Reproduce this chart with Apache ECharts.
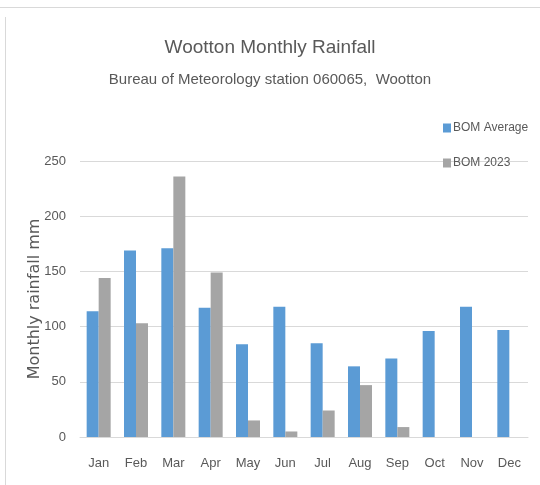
<!DOCTYPE html>
<html>
<head>
<meta charset="utf-8">
<script src="https://cdn.jsdelivr.net/npm/echarts@6/dist/echarts.min.js"></script>
<style>html,body{margin:0;padding:0;background:#fff;}#c{width:540px;height:485px;}</style>
</head>
<body>
<div id="c"></div>
<script>
var months = ['Jan','Feb','Mar','Apr','May','Jun','Jul','Aug','Sep','Oct','Nov','Dec'];
var bomAverage = [114, 169, 171, 117, 84, 118, 85, 64, 71, 96, 118, 97];
var bom2023 = [144, 103, 236, 149, 15, 5, 24, 47, 9, null, null, null];
var yTicks = [0, 50, 100, 150, 200, 250];

var font = '"Liberation Sans Narrow", "Liberation Sans", sans-serif';
var chart = echarts.init(document.getElementById('c'));
chart.setOption({
  animation: false,
  backgroundColor: '#fff',
  title: [
    {text: 'Wootton Monthly Rainfall', left: 'center', top: 33, textStyle: {fontFamily: font, fontSize: 19, fontWeight: 'normal', color: '#595959'}},
    {text: 'Bureau of Meteorology station 060065,  Wootton', left: 'center', top: 67, textStyle: {fontFamily: font, fontSize: 15, fontWeight: 'normal', color: '#595959'}}
  ],
  graphic: [
    {type: 'line', shape: {x1: 0, y1: 7.5, x2: 540, y2: 7.5}, style: {stroke: '#d9d9d9', lineWidth: 1}},
    {type: 'line', shape: {x1: 5.5, y1: 17, x2: 5.5, y2: 485}, style: {stroke: '#d9d9d9', lineWidth: 1}}
  ],
  legend: {
    orient: 'vertical', left: 438, top: 117, itemGap: 23, itemWidth: 8, itemHeight: 9,
    icon: 'rect',
    textStyle: {fontFamily: font, fontSize: 12, color: '#595959', padding: [0, 0, 0, -3]},
    data: ['BOM Average', 'BOM 2023']
  },
  grid: {left: 80, right: 12, top: 161, bottom: 48, containLabel: false},
  xAxis: {
    type: 'category', data: months,
    axisLine: {lineStyle: {color: '#d9d9d9'}}, axisTick: {show: false},
    axisLabel: {fontFamily: font, fontSize: 13, color: '#595959', margin: 20}
  },
  yAxis: {
    type: 'value', min: 0, max: 250, interval: 50,
    name: 'Monthly rainfall mm', nameLocation: 'middle', nameGap: 37, nameMoveOverlap: false,
    nameTextStyle: {fontFamily: '"DejaVu Sans", sans-serif', fontSize: 16, color: '#595959'},
    axisLabel: {fontFamily: font, fontSize: 13, color: '#595959', margin: 14,
      formatter: function (v) { return yTicks.indexOf(v) >= 0 ? String(v) : ''; }},
    axisLine: {show: false}, axisTick: {show: false},
    splitLine: {lineStyle: {color: '#d9d9d9'}}
  },
  series: [
    {name: 'BOM Average', type: 'bar', data: bomAverage, barWidth: 12, barGap: '0%', itemStyle: {color: '#5b9bd5'}},
    {name: 'BOM 2023', type: 'bar', data: bom2023, barWidth: 12, itemStyle: {color: '#a5a5a5'}}
  ]
});
</script>
</body>
</html>
